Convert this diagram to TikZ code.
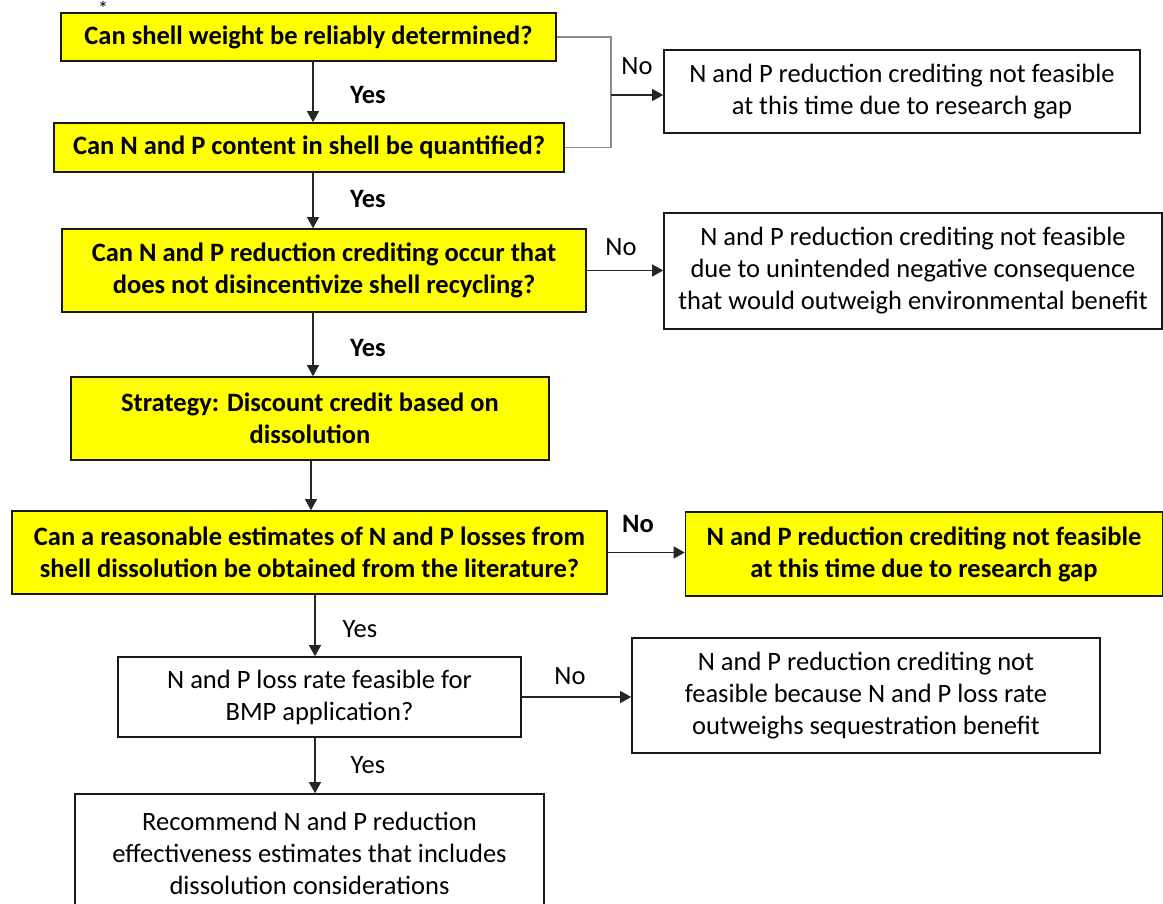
\documentclass[tikz,border=0pt]{standalone}
\usepackage{fontspec}
\setmainfont{Carlito}
\usetikzlibrary{arrows.meta}
\definecolor{boxyellow}{RGB}{255,255,0}
\tikzset{
  base/.style={draw=black!90, line width=1.6pt, align=center, inner sep=0pt,
    font=\fontsize{26.5}{32}\selectfont},
  ybox/.style={base, fill=boxyellow, font=\fontsize{26.5}{32}\selectfont\bfseries},
  wbox/.style={base, fill=white},
  arr/.style={line width=1.1pt, black!85, -{Triangle[length=11pt,width=12pt]}},
  garr/.style={line width=1.1pt, black!45},
  lbl/.style={font=\fontsize{26.5}{30}\selectfont, inner sep=0pt},
  blbl/.style={font=\fontsize{26.5}{30}\selectfont\bfseries, inner sep=0pt}
}
\begin{document}
\begin{tikzpicture}[x=1pt,y=-1pt]
\useasboundingbox (0,0) rectangle (1163,904);
% left column
\node[ybox, minimum width=495pt, minimum height=48pt] (b1) at (308.5,37) {Can shell weight be reliably determined?};
\node[ybox, minimum width=510pt, minimum height=49pt] (b2) at (309,147.5) {Can N and P content in shell be quantified?};
\node[ybox, minimum width=524pt, minimum height=83pt] (b3) at (324,270.5) {Can N and P reduction crediting occur that\\does not disincentivize shell recycling?};
\node[ybox, minimum width=478pt, minimum height=83pt] (b4) at (310,418.5) {Strategy: Discount credit based on\\dissolution};
\node[ybox, minimum width=595pt, minimum height=83pt] (b5) at (309.5,552.5) {Can a reasonable estimates of N and P losses from\\shell dissolution be obtained from the literature?};
\node[wbox, minimum width=403pt, minimum height=80pt] (b6) at (319.5,697) {N and P loss rate feasible for\\BMP application?};
\node[wbox, minimum width=469pt, minimum height=118pt] (b7) at (309.5,853) {Recommend N and P reduction\\effectiveness estimates that includes\\dissolution considerations};
% right column
\node[wbox, minimum width=476pt, minimum height=83pt] (r1) at (902,91.5) {N and P reduction crediting not feasible\\at this time due to research gap};
\node[wbox, minimum width=498pt, minimum height=116pt] (r2) at (913,271) {N and P reduction crediting not feasible\\due to unintended negative consequence\\that would outweigh environmental benefit};
\node[ybox, minimum width=477pt, minimum height=84pt] (r3) at (924,554) {N and P reduction crediting not feasible\\at this time due to research gap};
\node[wbox, minimum width=468pt, minimum height=115pt] (r4) at (866,695.5) {N and P reduction crediting not\\feasible because N and P loss rate\\outweighs sequestration benefit};
% asterisk
\node[font=\fontsize{20}{20}\selectfont, inner sep=0pt, anchor=north] (ast) at (103,1) {*};
% junction
\coordinate (j) at (611,95);
\draw[garr] (b1.east) -| (j);
\draw[garr] (b2.east) -| (j);
\draw[arr] (j) -- (r1.west |- j);
\node[lbl] (n1) at (637,66) {No};
% vertical arrows
\draw[arr] (313,61) coordinate (a1) -- (b2.north -| a1);
\node[blbl] (y1) at (368,95) {Yes};
\draw[arr] (b2.south -| a1) -- (b3.north -| a1);
\node[blbl] (y2) at (368,199) {Yes};
\draw[arr] (b3.south -| a1) -- (b4.north -| a1);
\node[blbl] (y3) at (368,348) {Yes};
\coordinate (a2) at (311,0);
\draw[arr] (b4.south -| a2) -- (b5.north -| a2);
\coordinate (a3) at (315,0);
\draw[arr] (b5.south -| a3) -- (b6.north -| a3);
\node[lbl] (y4) at (360,629) {Yes};
\draw[arr] (b6.south -| a3) -- (b7.north -| a3);
\node[lbl] (y5) at (368,765) {Yes};
% horizontal no arrows
\draw[arr] (b3.east) -- (r2.west |- b3.east);
\node[lbl] (n2) at (621,247) {No};
\draw[arr] (b5.east) -- (r3.west |- b5.east);
\node[blbl] (n3) at (638,524) {No};
\draw[arr] (b6.east) -- (r4.west |- b6.east);
\node[lbl] (n4) at (570,676) {No};
\end{tikzpicture}
\end{document}
